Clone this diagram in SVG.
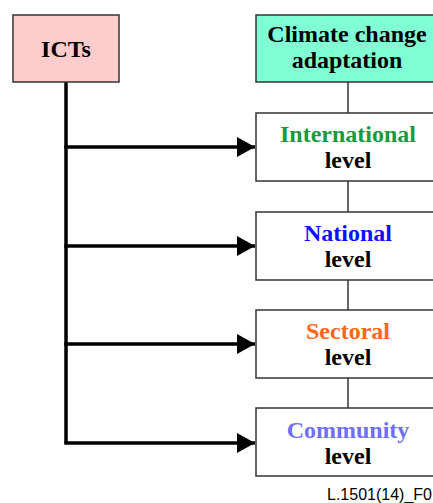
<svg xmlns="http://www.w3.org/2000/svg" width="433" height="503" viewBox="0 0 433 503">
  <style>
    .box { stroke: #333; stroke-width: 1.5; }
    .lvl { fill: #fff; stroke: #333; stroke-width: 1.5; }
    .t { font-family: "Liberation Serif", "Times New Roman", serif; font-weight: bold; font-size: 24px; text-anchor: middle; fill: #000; }
    .green { fill: #1a9a3c; }
    .blue { fill: #1010ff; }
    .orange { fill: #ff6619; }
    .violet { fill: #6f6fff; }
    .link { stroke: #333; stroke-width: 1.5; fill: none; }
    .feed { stroke: #000; stroke-width: 3.5; fill: none; }
    .foot { font-family: "Liberation Sans", Arial, sans-serif; font-size: 16px; fill: #000; }
  </style>
  <defs>
    <marker id="arrow" markerUnits="userSpaceOnUse" markerWidth="18" markerHeight="20" refX="18" refY="10" orient="auto">
      <path d="M0,0 L18,10 L0,20 Z" fill="#000"/>
    </marker>
  </defs>

  <rect width="433" height="503" fill="#fff"/>

  <!-- connectors -->
  <g id="connectors">
    <line class="link" x1="348" y1="82" x2="348" y2="113"/>
    <line class="link" x1="348" y1="181" x2="348" y2="212"/>
    <line class="link" x1="348" y1="280" x2="348" y2="310"/>
    <line class="link" x1="348" y1="378" x2="348" y2="408"/>
    <path class="feed" d="M66,82 V443"/>
    <line class="feed" x1="64.25" y1="147" x2="255" y2="147" marker-end="url(#arrow)"/>
    <line class="feed" x1="64.25" y1="246" x2="255" y2="246" marker-end="url(#arrow)"/>
    <line class="feed" x1="64.25" y1="344" x2="255" y2="344" marker-end="url(#arrow)"/>
    <line class="feed" x1="64.25" y1="443" x2="255" y2="443" marker-end="url(#arrow)"/>
  </g>

  <g id="icts">
    <rect class="box" x="13" y="15" width="106" height="67" fill="#ffcccc"/>
    <text class="t" x="66" y="57">ICTs</text>
  </g>

  <g id="adaptation">
    <rect class="box" x="256" y="15" width="184" height="67" fill="#80ffd4"/>
    <text class="t" x="347" y="42">Climate change</text>
    <text class="t" x="347" y="68">adaptation</text>
  </g>

  <g id="international">
    <rect class="lvl" x="256" y="113" width="184" height="68"/>
    <text class="t green" x="348" y="142">International</text>
    <text class="t" x="348" y="168">level</text>
  </g>

  <g id="national">
    <rect class="lvl" x="256" y="212" width="184" height="68"/>
    <text class="t blue" x="348" y="241">National</text>
    <text class="t" x="348" y="267">level</text>
  </g>

  <g id="sectoral">
    <rect class="lvl" x="256" y="310" width="184" height="68"/>
    <text class="t orange" x="348" y="339">Sectoral</text>
    <text class="t" x="348" y="365">level</text>
  </g>

  <g id="community">
    <rect class="lvl" x="256" y="408" width="184" height="68"/>
    <text class="t violet" x="348" y="438">Community</text>
    <text class="t" x="348" y="464">level</text>
  </g>

  <text class="foot" x="327" y="500">L.1501(14)_F0</text>
</svg>
